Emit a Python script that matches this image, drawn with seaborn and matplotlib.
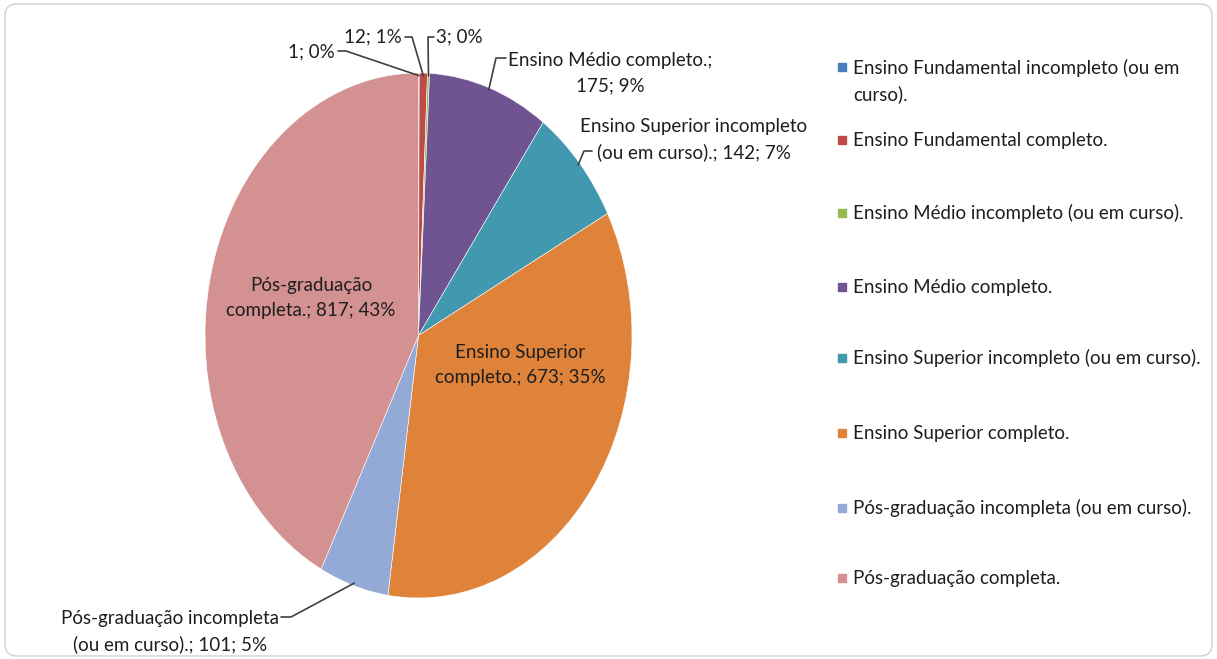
import matplotlib
matplotlib.use("Agg")
import matplotlib.pyplot as plt
import numpy as np
import seaborn as sns
from matplotlib.lines import Line2D
from matplotlib.patches import FancyBboxPatch, Rectangle
from matplotlib.transforms import IdentityTransform

# data
categories = [
    "Ensino Fundamental incompleto (ou em curso).",
    "Ensino Fundamental completo.",
    "Ensino Médio incompleto (ou em curso).",
    "Ensino Médio completo.",
    "Ensino Superior incompleto (ou em curso).",
    "Ensino Superior completo.",
    "Pós-graduação incompleta (ou em curso).",
    "Pós-graduação completa.",
]
counts = [1, 12, 3, 175, 142, 673, 101, 817]
percents = [0, 1, 0, 9, 7, 35, 5, 43]
# category name part of each slice label, as wrapped on the chart
label_names = [
    "",
    "",
    "",
    "Ensino Médio completo.;\n",
    "Ensino Superior incompleto\n(ou em curso).; ",
    "Ensino Superior\ncompleto.; ",
    "Pós-graduação incompleta\n(ou em curso).; ",
    "Pós-graduação\ncompleta.; ",
]
legend_labels = [
    "Ensino Fundamental incompleto (ou em\ncurso).",
    "Ensino Fundamental completo.",
    "Ensino Médio incompleto (ou em curso).",
    "Ensino Médio completo.",
    "Ensino Superior incompleto (ou em curso).",
    "Ensino Superior completo.",
    "Pós-graduação incompleta (ou em curso).",
    "Pós-graduação completa.",
]
colors = ["#4A7EBB", "#BE4B48", "#98B954", "#705491",
          "#4198AF", "#E0833A", "#94AAD6", "#D39191"]

W, H = 1217, 659
FS = 13.5
LS = 1.55
GAP = 27   # pixels between baselines with LS above
TXT = "#1e1e1e"
LINE = "#404040"

sns.set_theme(style="white")
plt.rcParams["font.family"] = ["Lato", "DejaVu Sans"]

fig = plt.figure(figsize=(W / 100, H / 100), dpi=100)
fig.patch.set_facecolor("white")

# the pie in the picture is stretched vertically, so aspect is left free
ax = fig.add_axes([205 / W, 1 - 598 / H, 427 / W, 525 / H])
wedges, _ = ax.pie(counts, colors=sns.color_palette(colors), startangle=90,
                   counterclock=False,
                   wedgeprops=dict(edgecolor="white", linewidth=0.4))
ax.set_aspect("auto")
ax.set_xlim(-1, 1)
ax.set_ylim(-1, 1)


def fxy(x, y):
    # pixel position (from top-left) -> figure fraction
    return x / W, 1 - y / H


def put_text(x, y_first, s, ha, align="center"):
    # matplotlib's 'baseline' anchors the last line of a multi-line text
    y_last = y_first + s.count("\n") * GAP
    fig.text(*fxy(x, y_last), s, ha=ha, va="baseline",
             multialignment=align, fontsize=FS, color=TXT, linespacing=LS)


# text x, first-line baseline y, ha, leader start, elbow x   (pixels)
label_layout = [
    (335, 57, "right", (338, 51), 346),
    (402, 42, "right", (405, 37), 412),
    (436, 42, "left", (434, 37), 428),
    (508, 64, "left", (506, 58), 496),
    (580, 131, "left", (592, 151), 584),
    (520, 356, "center", None, None),
    (279, 623, "right", (281, 617), 291),
    (311, 289, "center", None, None),
]

for i, w in enumerate(wedges):
    tx, ty, ha, start, ex = label_layout[i]
    put_text(tx, ty, f"{label_names[i]}{counts[i]}; {percents[i]}%", ha)
    if start is None:
        continue
    th = np.deg2rad((w.theta1 + w.theta2) / 2)
    disp = ax.transData.transform((np.cos(th) * 0.99, np.sin(th) * 0.99))
    wx, wy = fig.transFigure.inverted().transform(disp)
    sx, sy = fxy(*start)
    bx, _ = fxy(ex, start[1])
    fig.add_artist(Line2D([sx, bx, wx], [sy, sy, wy], color=LINE, lw=1.2,
                          transform=fig.transFigure))

# legend drawn as Excel lays it out: square marker next to the first line
legend_y = [67, 140, 213, 287, 358, 433, 508, 578]
for lab, col, y in zip(legend_labels, colors, legend_y):
    fig.add_artist(Rectangle(fxy(838, y + 4), 8 / W, 8 / H, color=col,
                             transform=fig.transFigure))
    put_text(853, y + 6, lab, "left", align="left")

# light rounded frame round the chart area
fig.add_artist(FancyBboxPatch((5, 3), 1207, 652,
                              boxstyle="round,pad=0,rounding_size=12",
                              fill=False, edgecolor="#d0d0d0", lw=1.0,
                              transform=IdentityTransform()))

fig.savefig("out.png", dpi=100)
